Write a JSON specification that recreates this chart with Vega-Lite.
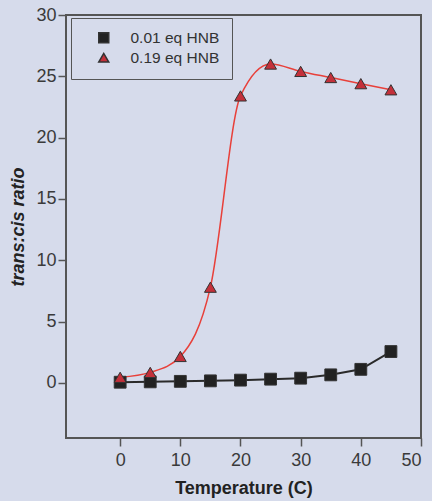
{
  "$schema": "https://vega.github.io/schema/vega-lite/v6.json",
  "width": 355,
  "height": 423,
  "autosize": {"type": "none"},
  "padding": {"left": 66, "top": 15, "right": 11, "bottom": 63},
  "background": "#d6dbeb",
  "config": {
    "font": "Liberation Sans",
    "view": {"stroke": "#555555", "strokeWidth": 2, "fill": "#d6dbeb"},
    "axis": {
      "domain": false,
      "grid": false,
      "labelFont": "Liberation Sans",
      "labelFontSize": 18,
      "labelColor": "#3a3a3a",
      "tickColor": "#555555",
      "tickSize": 8,
      "tickWidth": 1.5,
      "titleFont": "Liberation Sans",
      "titleFontSize": 18,
      "titleFontWeight": "bold",
      "titleColor": "#222222"
    },
    "legend": {
      "title": null,
      "orient": "none",
      "legendX": 5,
      "legendY": 3,
      "padding": 12,
      "strokeColor": "#555555",
      "symbolSize": 100,
      "symbolOffset": 13,
      "labelOffset": 19,
      "rowPadding": 3,
      "labelFont": "Liberation Sans",
      "labelFontSize": 15.5,
      "labelColor": "#333333"
    }
  },
  "data": {
    "values": [
      {"t": 0, "r": 0.05, "series": "0.01 eq HNB"},
      {"t": 5, "r": 0.08, "series": "0.01 eq HNB"},
      {"t": 10, "r": 0.12, "series": "0.01 eq HNB"},
      {"t": 15, "r": 0.16, "series": "0.01 eq HNB"},
      {"t": 20, "r": 0.22, "series": "0.01 eq HNB"},
      {"t": 25, "r": 0.3, "series": "0.01 eq HNB"},
      {"t": 30, "r": 0.38, "series": "0.01 eq HNB"},
      {"t": 35, "r": 0.65, "series": "0.01 eq HNB"},
      {"t": 40, "r": 1.1, "series": "0.01 eq HNB"},
      {"t": 45, "r": 2.55, "series": "0.01 eq HNB"},
      {"t": 0, "r": 0.45, "series": "0.19 eq HNB"},
      {"t": 5, "r": 0.85, "series": "0.19 eq HNB"},
      {"t": 10, "r": 2.15, "series": "0.19 eq HNB"},
      {"t": 15, "r": 7.8, "series": "0.19 eq HNB"},
      {"t": 20, "r": 23.4, "series": "0.19 eq HNB"},
      {"t": 25, "r": 26.0, "series": "0.19 eq HNB"},
      {"t": 30, "r": 25.4, "series": "0.19 eq HNB"},
      {"t": 35, "r": 24.9, "series": "0.19 eq HNB"},
      {"t": 40, "r": 24.4, "series": "0.19 eq HNB"},
      {"t": 45, "r": 23.9, "series": "0.19 eq HNB"}
    ]
  },
  "encoding": {
    "x": {
      "field": "t",
      "type": "quantitative",
      "scale": {"domain": [-9, 50], "nice": false, "zero": false},
      "axis": {"values": [0, 10, 20, 30, 40, 50], "title": "Temperature (C)", "labelPadding": 5, "titlePadding": 10}
    },
    "y": {
      "field": "r",
      "type": "quantitative",
      "scale": {"domain": [-4.5, 30], "nice": false, "zero": false},
      "axis": {"values": [0, 5, 10, 15, 20, 25, 30], "title": "trans:cis ratio", "titleFontStyle": "italic", "labelPadding": 2, "titlePadding": 8}
    }
  },
  "layer": [
    {
      "transform": [{"filter": "datum.series == '0.01 eq HNB'"}],
      "mark": {"type": "line", "interpolate": "linear", "color": "#2a2a2a", "strokeWidth": 2}
    },
    {
      "transform": [{"filter": "datum.series == '0.19 eq HNB'"}],
      "mark": {"type": "line", "interpolate": "monotone", "color": "#e8403a", "strokeWidth": 1.5}
    },
    {
      "mark": {"type": "point", "filled": true, "size": 140, "stroke": "#333333", "strokeWidth": 1, "opacity": 1},
      "encoding": {
        "fill": {
          "field": "series",
          "type": "nominal",
          "scale": {"domain": ["0.01 eq HNB", "0.19 eq HNB"], "range": ["#222222", "#c4303a"]},
          "legend": {
            "encode": {
              "legend": {"strokeWidth": {"value": 2}},
              "symbols": {
                "shape": {"value": {"expr": "datum.value == '0.01 eq HNB' ? 'M-3.7,0H3.7M-0.8,-0.8H0.8V0.8H-0.8Z' : 'M-3.7,0H3.7M0,-0.95L1.1,0.8H-1.1Z'"}},
                "stroke": {"value": {"expr": "datum.value == '0.01 eq HNB' ? '#2a2a2a' : '#e8403a'"}},
                "strokeWidth": {"value": 1.5}
              }
            }
          }
        },
        "shape": {
          "field": "series",
          "type": "nominal",
          "scale": {"domain": ["0.01 eq HNB", "0.19 eq HNB"], "range": ["square", "triangle-up"]},
          "legend": {
            "encode": {
              "legend": {"strokeWidth": {"value": 2}},
              "symbols": {
                "shape": {"value": {"expr": "datum.value == '0.01 eq HNB' ? 'M-3.7,0H3.7M-0.8,-0.8H0.8V0.8H-0.8Z' : 'M-3.7,0H3.7M0,-0.95L1.1,0.8H-1.1Z'"}},
                "stroke": {"value": {"expr": "datum.value == '0.01 eq HNB' ? '#2a2a2a' : '#e8403a'"}},
                "strokeWidth": {"value": 1.5}
              }
            }
          }
        }
      }
    }
  ]
}
